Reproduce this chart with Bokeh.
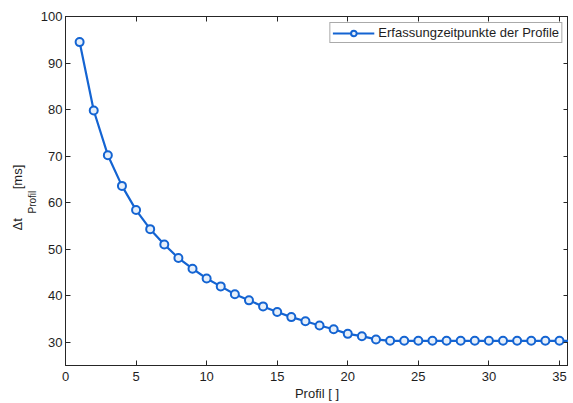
from bokeh.plotting import figure
from bokeh.models import (Range1d, FixedTicker, LinearAxis, Title, Legend, LegendItem,
                          ColumnDataSource)
from bokeh.embed import file_html
from bokeh.resources import INLINE

# ---- data ----
profil = [1, 2, 3, 4, 5, 6, 7, 8, 9, 10, 11, 12, 13, 14, 15, 16, 17, 18,
          19, 20, 21, 22, 23, 24, 25, 26, 27, 28, 29, 30, 31, 32, 33, 34, 35, 36]
dt_ms = [94.5, 79.8, 70.2, 63.6, 58.4, 54.3, 51.0, 48.1, 45.8, 43.7, 42.0, 40.3,
         39.0, 37.7, 36.5, 35.4, 34.5, 33.6, 32.8, 31.8, 31.3, 30.6, 30.3, 30.3,
         30.3, 30.3, 30.3, 30.3, 30.3, 30.3, 30.3, 30.3, 30.3, 30.3, 30.3, 30.3]
x_ticks = [0, 5, 10, 15, 20, 25, 30, 35]
y_ticks = [30, 40, 50, 60, 70, 80, 90, 100]
legend_label = "Erfassungzeitpunkte der Profile"
x_label = "Profil [ ]"
y_label_main = "Δt" + "\u00a0" * 8 + "[ms]"
y_label_sub = "Profil"

FONT = "Liberation Sans"
BLUE = "#1464d2"
AX = "#262626"
TXT = "#1e1e1e"
W, H = 568, 403

src = ColumnDataSource(dict(x=profil, y=dt_ms))

p = figure(width=W, height=H, output_backend="svg", toolbar_location=None,
           x_range=Range1d(0, 35.64), y_range=Range1d(25, 100),
           min_border_left=65, min_border_right=0, min_border_top=16, min_border_bottom=37)
p.xgrid.visible = False
p.ygrid.visible = False
p.outline_line_color = AX
p.outline_line_width = 1
p.background_fill_color = "white"
p.border_fill_color = "white"

def style_axis(ax, ticks, labels=True):
    ax.ticker = FixedTicker(ticks=ticks)
    ax.major_tick_in = 5
    ax.major_tick_out = 0
    ax.minor_tick_line_color = None
    ax.axis_line_color = AX
    ax.major_tick_line_color = AX
    if labels:
        ax.major_label_text_font = FONT
        ax.major_label_text_font_size = "13px"
        ax.major_label_text_color = TXT
    else:
        ax.major_label_overrides = {t: "" for t in ticks}
        ax.major_label_text_color = None
        ax.major_label_standoff = 0

xa = p.xaxis[0]
style_axis(xa, x_ticks)
xa.major_label_standoff = 6
xa.axis_label = x_label
xa.axis_label_standoff = 2
xa.axis_label_text_font = FONT
xa.axis_label_text_font_size = "13px"
xa.axis_label_text_font_style = "normal"
xa.axis_label_text_color = TXT

style_axis(p.yaxis[0], y_ticks)
p.yaxis[0].major_label_standoff = 3

top = LinearAxis()
style_axis(top, x_ticks, labels=False)
p.add_layout(top, "above")
right = LinearAxis()
style_axis(right, y_ticks, labels=False)
p.add_layout(right, "right")

# y axis label Δt_Profil [ms] as side titles
t_sub = Title(text=y_label_sub, align="left", offset=152, standoff=0,
              text_font=FONT, text_font_size="10px", text_font_style="normal",
              text_color=TXT)
t_main = Title(text=y_label_main, align="left", offset=135, standoff=0,
               text_font=FONT, text_font_size="13px", text_font_style="normal",
               text_color=TXT)
p.add_layout(t_sub, "left")
p.add_layout(t_main, "left")

ln = p.line("x", "y", source=src, line_color=BLUE, line_width=2.2)
sc = p.scatter("x", "y", source=src, size=8, marker="circle", line_color=BLUE,
               line_width=2, fill_color="#e6effa")

legend = Legend(items=[LegendItem(label=legend_label, renderers=[ln, sc])],
                location="top_right", margin=6, padding=2, spacing=0,
                glyph_width=42, glyph_height=14, label_height=14, label_standoff=4,
                label_text_font=FONT, label_text_font_size="13px",
                label_text_color=TXT, border_line_color="#555555",
                border_line_width=1, background_fill_alpha=1.0)
p.add_layout(legend)

open("out.html", "w").write(file_html(p, INLINE))
